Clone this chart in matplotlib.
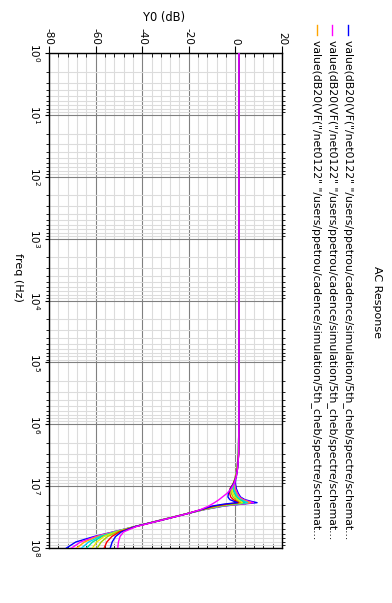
import matplotlib
matplotlib.use("Agg")
import matplotlib.pyplot as plt
from matplotlib.lines import Line2D
from matplotlib.ticker import MultipleLocator, LogLocator, NullFormatter

# frequency points shared by every sweep curve (Hz)
freq = [1, 1e6, 3e6, 5e6, 7e6, 9e6, 1.1e7, 1.3e7, 1.5e7, 1.65e7, 1.75e7,
        1.85e7, 1.95e7, 2.1e7, 2.4e7, 2.8e7, 3.5e7, 4.5e7, 5.5e7, 6.5e7, 8e7, 1e8]

# gain in dB, one list per parametric run (highest Q first)
db_0 = [1.5, 1.5, 1.3, 0.8, 0.2, 0.0, 0.4, 1.2, 2.2, 4.0, 6.5, 9.3, 3.0, -5.0,
        -13.5, -21.0, -31.5, -43.0, -52.5, -60.5, -68.5, -72.5]
db_1 = [1.5, 1.5, 1.3, 0.7, 0.0, -0.3, 0.0, 0.8, 1.8, 3.4, 5.5, 7.8, 2.0, -5.5,
        -13.7, -21.1, -31.6, -43.0, -52.3, -59.8, -66.5, -70.3]
db_2 = [1.5, 1.5, 1.3, 0.7, 0.0, -0.5, -0.4, 0.4, 1.3, 2.8, 4.6, 6.4, 1.0, -6.0,
        -13.8, -21.1, -31.5, -43.0, -52.0, -59.0, -64.8, -68.1]
db_3 = [1.5, 1.5, 1.3, 0.8, 0.1, -0.6, -0.8, 0.0, 0.9, 2.2, 3.8, 5.2, 0.2, -6.5,
        -14.0, -21.0, -31.4, -43.0, -51.7, -58.0, -63.0, -66.0]
db_4 = [1.5, 1.5, 1.3, 0.8, 0.1, -0.8, -1.2, -0.5, 0.4, 1.6, 2.9, 4.0, -0.6, -7.0,
        -14.2, -21.0, -31.3, -43.0, -51.5, -57.2, -61.3, -63.8]
db_5 = [1.5, 1.5, 1.3, 0.8, 0.2, -0.9, -1.6, -1.1, -0.2, 0.9, 2.0, 3.0, -1.4, -7.5,
        -14.3, -21.0, -31.2, -43.0, -51.2, -56.4, -59.5, -61.4]
db_6 = [1.5, 1.5, 1.4, 0.9, 0.3, -0.9, -2.0, -1.8, -1.0, 0.1, 1.1, 2.1, -2.3, -8.2,
        -14.5, -20.9, -31.2, -43.0, -50.5, -54.8, -57.6, -59.3]
db_7 = [1.5, 1.5, 1.4, 0.9, 0.3, -0.8, -2.3, -2.5, -2.0, -0.9, 0.3, 1.4, -3.3, -9.0,
        -14.6, -20.9, -31.1, -43.0, -49.8, -53.0, -55.2, -56.3]
db_8 = [1.5, 1.5, 1.4, 1.0, 0.4, -0.7, -2.1, -3.0, -3.2, -2.4, -0.8, 0.9, -4.8, -10.0,
        -14.7, -20.8, -31.0, -43.0, -49.0, -51.4, -52.9, -53.7]
db_9 = [1.5, 1.5, 1.4, 1.0, 0.4, -0.5, -1.8, -3.5, -5.6, -7.0, -8.0, -9.0, -10.0, -11.5,
        -15.0, -20.8, -31.0, -42.5, -48.0, -49.5, -50.2, -50.5]

curves = [db_0, db_1, db_2, db_3, db_4, db_5, db_6, db_7, db_8, db_9]
colors = ["#0000ff", "#ff00ff", "#ffa500", "#00d0ff", "#00e0a0",
          "#e8e800", "#a0d000", "#ff0000", "#0000ff", "#ff00ff"]

legend_label = 'value(dB20(VF("/net0122" "/users/ppetrou/cadence/simulation/5th_cheb/spectre/schemat...'
legend_colors = ["#0000ff", "#ff00ff", "#ffa500"]

x_ticks = [-80, -60, -40, -20, 0, 20]
y_ticks = [10 ** i for i in range(9)]
y_tick_labels = [f"$10^{{{i}}}$" for i in range(9)]

W, H = 392, 603
fig = plt.figure(figsize=(W / 100, H / 100), dpi=100)
ax = fig.add_axes([49 / W, 1 - 548 / H, (282 - 49) / W, (548 - 53) / H])

for db, c in zip(curves, colors):
    ax.plot(db, freq, color=c, lw=1.0, zorder=3)

ax.set_yscale("log")
ax.set_ylim(1e8, 1)
ax.set_xlim(-80, 20)

# dB axis drawn along the top, frequency along the left (chart is turned sideways)
ax.xaxis.tick_top()
ax.set_xticks(x_ticks)
ax.set_xticklabels([str(t) for t in x_ticks], rotation=270, fontsize=7.5)
ax.xaxis.set_minor_locator(MultipleLocator(4))
ax.tick_params(axis="x", which="major", direction="out", length=5, pad=1)
ax.tick_params(axis="x", which="minor", direction="in", length=3, top=True, bottom=True)

ax.set_yticks(y_ticks)
ax.set_yticklabels(y_tick_labels, rotation=270, fontsize=7.5, va="center")
ax.yaxis.set_minor_locator(LogLocator(base=10, subs=range(2, 10), numticks=20))
ax.yaxis.set_minor_formatter(NullFormatter())
ax.tick_params(axis="y", which="major", direction="out", length=3, pad=2)
ax.tick_params(axis="y", which="minor", direction="out", length=2.5, left=True, right=True)

ax.grid(which="minor", color="#dcdcdc", lw=0.8, zorder=0)
ax.grid(which="major", color="#808080", lw=0.8, zorder=1)
ax.set_axisbelow(True)
for s in ax.spines.values():
    s.set_color("black")
    s.set_linewidth(1.0)

fig.text(164 / W, 1 - 17 / H, "Y0 (dB)", ha="center", va="center", fontsize=8.3)
fig.text(18 / W, 1 - 277 / H, "freq (Hz)", ha="center", va="center",
         rotation=270, fontsize=8)
fig.text(377 / W, 1 - 302 / H, "AC Response", ha="center", va="center",
         rotation=270, fontsize=8)

# legend entries stacked as columns, read top to bottom
for i, (xpx, c) in enumerate(zip([348, 332, 316.5], legend_colors)):
    fig.add_artist(Line2D([xpx / W, xpx / W], [1 - 25 / H, 1 - 35 / H],
                          color=c, lw=1.0, transform=fig.transFigure))
    fig.text(xpx / W, 1 - 40 / H, legend_label, ha="center", va="top",
             rotation=270, fontsize=7.8)

fig.savefig("out.png", dpi=100)
